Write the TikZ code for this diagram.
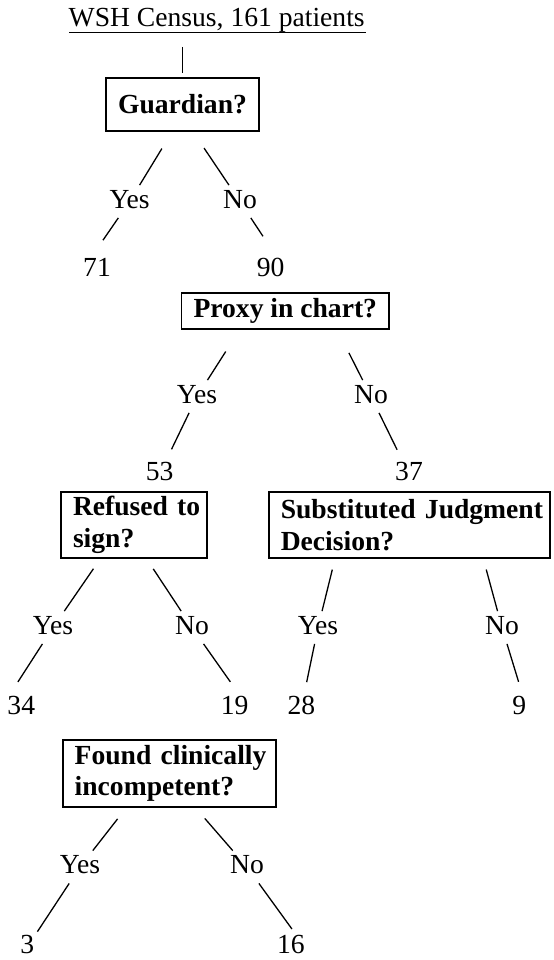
\documentclass[tikz,border=0pt]{standalone}
\usepackage{fontspec}
\setmainfont{Liberation Serif}
\usepackage{tikz}
\usetikzlibrary{positioning}
\usetikzlibrary{calc}
\tikzstyle{heading} = [inner sep=0pt, font=\fontsize{13.8}{15.8}\selectfont]
\tikzstyle{question} = [draw, rectangle, line width=0.85pt, inner xsep=6pt, inner ysep=0pt, font=\fontsize{13.8}{15.8}\selectfont\bfseries]
\tikzstyle{answer} = [inner sep=0pt, text height=0.67em, text depth=0pt, minimum height=16pt, font=\fontsize{13.8}{15.8}\selectfont]
\tikzstyle{tally} = [inner sep=0pt, text height=0.67em, text depth=0pt, font=\fontsize{13.8}{15.8}\selectfont]
\tikzstyle{branch} = [line width=0.65pt]

\begin{document}
\begin{tikzpicture}[x=0.5pt,y=-0.5pt]
    \useasboundingbox (0,0) rectangle (553,960);

    \node [heading, anchor=base] (census) at (216.7,26.7) {WSH Census, 161 patients};
    \node [question, minimum width=70.8pt, minimum height=26.4pt] (guard) at (182.5,104.4) {Guardian?};
    \node [answer] (gyes) at (129.6,201.5) {Yes};
    \node [answer] (gno) at (240,201.5) {No};
    \node [tally] (n71) at (97,269.5) {71};
    \node [tally] (n90) at (270.7,269.5) {90};

    \node [question, minimum width=97pt, minimum height=18pt] (proxy) at (285.3,311.3) {Proxy in chart?};
    \node [answer] (pyes) at (197,396.5) {Yes};
    \node [answer] (pno) at (371,396.5) {No};
    \node [tally] (n53) at (159.6,474) {53};
    \node [tally] (n37) at (409,474) {37};

    \node [question, text width=60.85pt, align=left, minimum height=33pt] (refused) at (133.85,525) {\mbox{Refused to}\\sign?};
    \node [question, text width=128.6pt, align=left, minimum height=33pt] (subst) at (409.4,524.9) {\mbox{Substituted Judgment}\\Decision?};
    \node [answer] (ryes) at (53,627.5) {Yes};
    \node [answer] (rno) at (192,627.5) {No};
    \node [answer] (syes) at (318,627.5) {Yes};
    \node [answer] (sno) at (502,627.5) {No};
    \node [tally] (n34) at (21.3,708) {34};
    \node [tally] (n19) at (234.6,708) {19};
    \node [tally] (n28) at (301.3,708) {28};
    \node [tally] (n9) at (519.3,708) {9};

    \node [question, text width=94.5pt, align=left, minimum height=33.5pt] (found) at (169.2,773.5) {\mbox{Found clinically}\\\mbox{incompetent?}};
    \node [answer] (fyes) at (80,867) {Yes};
    \node [answer] (fno) at (247,867) {No};
    \node [tally] (n3) at (27.3,947) {3};
    \node [tally] (n16) at (290.8,947) {16};

    % underline and stem
    \draw [branch] ($(census.base west)+(1,5.6)$) -- ($(census.base east)+(1,5.6)$);
    \draw [branch, shorten <=6.9pt, shorten >=2pt] (census.south -| guard.north) -- (guard.north);

    \draw [branch, shorten <=9.9pt] ($(guard.south)+(-10.3,0)$) -- (gyes);
    \draw [branch, shorten >=17.8pt] (gyes) -- (n71.west);
    \draw [branch, shorten <=9.9pt] ($(guard.south)+(10.5,0)$) -- (gno);
    \draw [branch, shorten >=19.9pt] (gno) -- (n90.east);

    \draw [branch, shorten <=12.7pt] ($(proxy.south)+(-45.9,0)$) -- (pyes);
    \draw [branch, shorten >=13.7pt] (pyes) -- (n53.center);
    \draw [branch, shorten <=12.7pt] ($(proxy.south)+(52.1,0)$) -- (pno);
    \draw [branch, shorten >=13.5pt] (pno) -- (n37.center);

    \draw [branch, shorten <=6pt] ($(refused.south)+(-33.6,0)$) -- (ryes);
    \draw [branch, shorten >=15.5pt] (ryes) -- ($(n34.west)+(-6,0)$);
    \draw [branch, shorten <=6pt] ($(refused.south)+(12.8,0)$) -- (rno);
    \draw [branch, shorten >=16pt] (rno) -- (n19.east);

    \draw [branch, shorten <=5.6pt] ($(subst.south)+(-74.4,0)$) -- (syes);
    \draw [branch, shorten >=13.2pt] (syes) -- (n28.center);
    \draw [branch, shorten <=5.6pt] ($(subst.south)+(73.9,0)$) -- (sno);
    \draw [branch, shorten >=13.7pt] (sno) -- (n9.east);

    \draw [branch, shorten <=7pt] ($(found.south)+(-43,0)$) -- (fyes);
    \draw [branch, shorten >=9.2pt] (fyes) -- (n3.center);
    \draw [branch, shorten <=7pt] ($(found.south)+(26.4,0)$) -- (fno);
    \draw [branch, shorten >=11.1pt] (fno) -- (n16.east);
\end{tikzpicture}
\end{document}
